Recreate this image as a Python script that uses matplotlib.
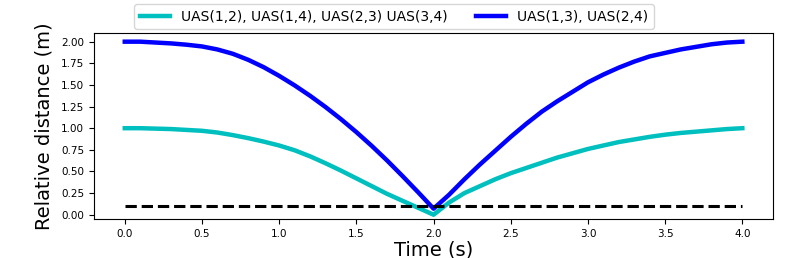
import matplotlib
matplotlib.use("Agg")
import matplotlib.pyplot as plt

# tempo (s), passo de 0.1 s
t = [i / 10 for i in range(41)]

# UAS(1,2), UAS(1,4), UAS(2,3), UAS(3,4)
d_adj = [1.00, 1.00, 0.995, 0.99, 0.98, 0.97, 0.95, 0.92, 0.885, 0.845,
         0.80, 0.745, 0.675, 0.595, 0.51, 0.42, 0.33, 0.24, 0.16, 0.08,
         0.00,
         0.14, 0.25, 0.33, 0.41, 0.48, 0.54, 0.60, 0.66, 0.71, 0.76,
         0.80, 0.84, 0.87, 0.90, 0.925, 0.945, 0.96, 0.975, 0.99, 1.00]

# UAS(1,3), UAS(2,4)
d_diag = [2.00, 2.00, 1.99, 1.98, 1.965, 1.945, 1.91, 1.86, 1.79, 1.705,
          1.605, 1.495, 1.375, 1.245, 1.105, 0.955, 0.795, 0.625, 0.445, 0.26,
          0.07,
          0.23, 0.41, 0.58, 0.74, 0.90, 1.05, 1.19, 1.31, 1.42, 1.53,
          1.62, 1.70, 1.77, 1.83, 1.87, 1.91, 1.94, 1.97, 1.99, 2.00]

# distancia minima de seguranca
d_min = 0.1
t_lim = [0.0, 4.0]

label_adj = "UAS(1,2), UAS(1,4), UAS(2,3) UAS(3,4)"
label_diag = "UAS(1,3), UAS(2,4)"

fig = plt.figure(figsize=(7.89, 2.58), dpi=100)
ax = fig.add_axes([0.119, 0.151, 0.861, 0.721])

ax.plot(t, d_adj, color="c", lw=3.2, label=label_adj)
ax.plot(t, d_diag, color="b", lw=3.2, label=label_diag)
ax.plot(t_lim, [d_min, d_min], "k--", lw=2.2)

ax.set_xlim(-0.2, 4.2)
ax.set_ylim(-0.05, 2.1)
ax.set_yticks([0.0, 0.25, 0.5, 0.75, 1.0, 1.25, 1.5, 1.75, 2.0])
ax.tick_params(labelsize=7.5)
ax.set_xlabel("Time (s)", fontsize=14, labelpad=1)
ax.set_ylabel("Relative distance (m)", fontsize=14, labelpad=5)

fig.legend(loc="upper left", bbox_to_anchor=(134 / 789, 1 - 4 / 258),
           ncol=2, fontsize=10, handlelength=2.2, borderaxespad=0)

fig.savefig("out.png", dpi=100)
